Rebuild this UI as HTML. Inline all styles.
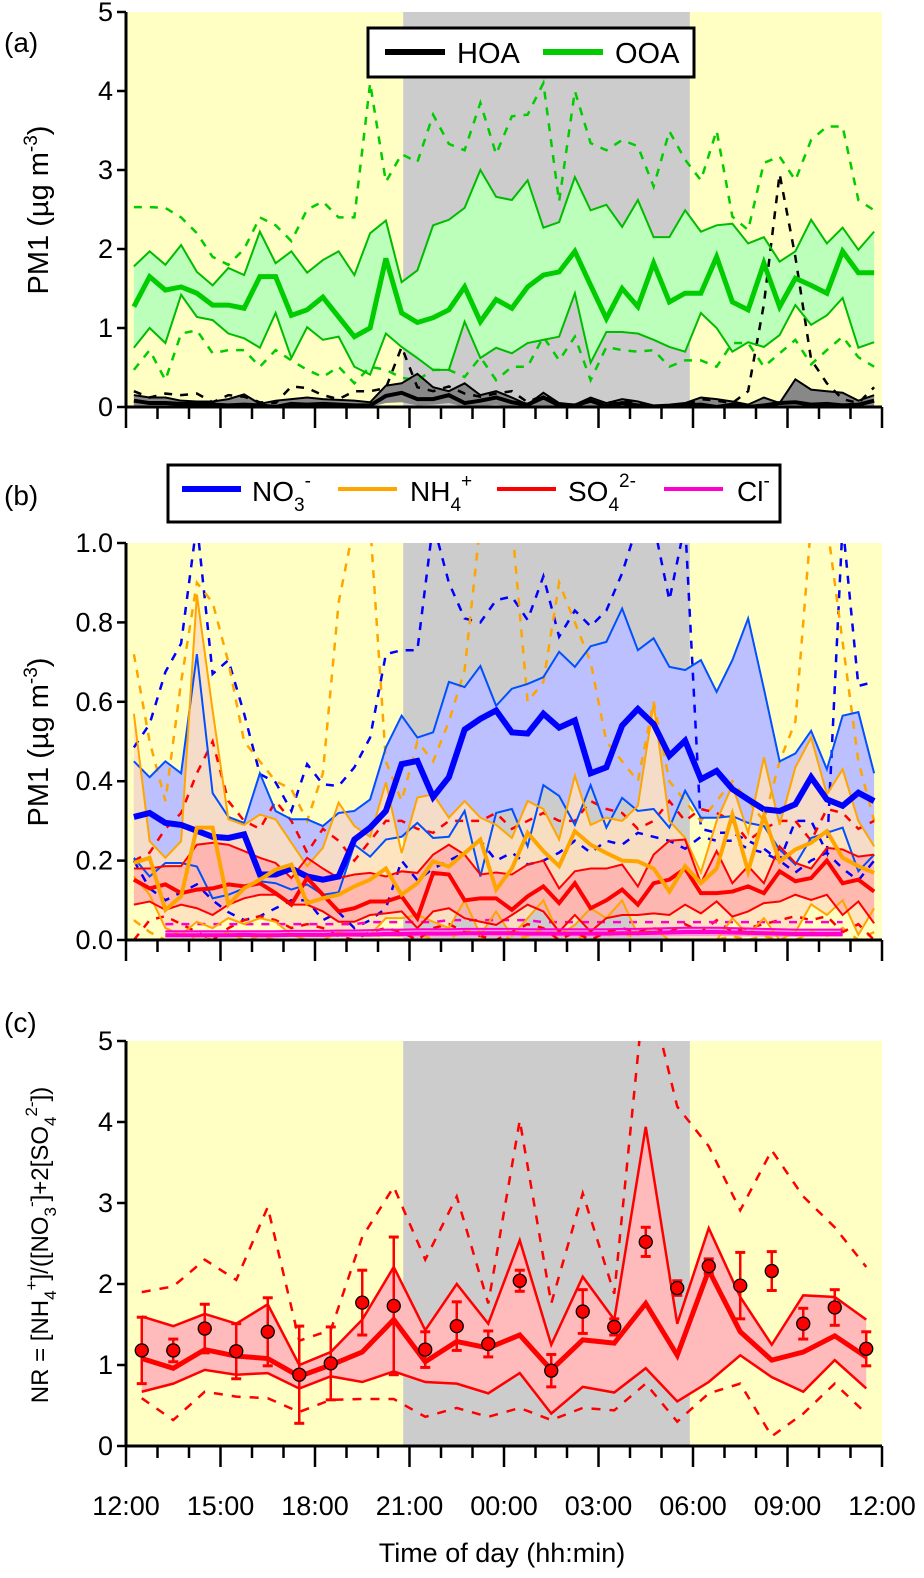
<!DOCTYPE html>
<html><head><meta charset="utf-8">
<style>
html,body{margin:0;padding:0;background:#fff;}
svg{display:block;font-family:"Liberation Sans",Arial,sans-serif;}
</style></head>
<body>
<svg id="chart" width="924" height="1578" viewBox="0 0 924 1578" xmlns="http://www.w3.org/2000/svg">
<defs>
<clipPath id="clipA"><rect x="126" y="12" width="757" height="396"/></clipPath>
<clipPath id="clipB"><rect x="126" y="543" width="757" height="398"/></clipPath>
<clipPath id="clipC"><rect x="126" y="1041" width="757" height="406"/></clipPath>
</defs>
<g id="bgs"></g>
<g id="series"></g>
<g id="axes"></g>
<!-- panel labels -->
<text x="4" y="52" font-size="28">(a)</text>
<text x="4" y="505" font-size="28">(b)</text>
<text x="4" y="1032" font-size="28">(c)</text>
<!-- y titles -->
<text transform="translate(48,210) rotate(-90)" text-anchor="middle" font-size="29">PM1 (µg m<tspan dy="-11" font-size="19">-3</tspan><tspan dy="11">)</tspan></text>
<text transform="translate(48,742) rotate(-90)" text-anchor="middle" font-size="29">PM1 (µg m<tspan dy="-11" font-size="19">-3</tspan><tspan dy="11">)</tspan></text>
<text transform="translate(48,1245) rotate(-90)" text-anchor="middle" font-size="24">NR = [NH<tspan dy="8" font-size="17">4</tspan><tspan dy="-19" font-size="17">+</tspan><tspan dy="11">]/([NO</tspan><tspan dy="8" font-size="17">3</tspan><tspan dy="-19" font-size="17">-</tspan><tspan dy="11">]+2[SO</tspan><tspan dy="8" font-size="17">4</tspan><tspan dy="-19" font-size="17">2-</tspan><tspan dy="11">])</tspan></text>
<text x="502" y="1562" text-anchor="middle" font-size="27">Time of day (hh:min)</text>
<!-- legend a -->
<g>
<rect x="368" y="28" width="326" height="49" fill="#fff" stroke="#000" stroke-width="3"/>
<line x1="385" y1="52" x2="445" y2="52" stroke="#000" stroke-width="6"/>
<text x="457" y="63" font-size="29">HOA</text>
<line x1="543" y1="52" x2="603" y2="52" stroke="#00cc00" stroke-width="6"/>
<text x="615" y="63" font-size="29">OOA</text>
</g>
<!-- legend b -->
<g>
<rect x="168" y="465" width="612" height="57" fill="#fff" stroke="#000" stroke-width="3"/>
<line x1="182" y1="489" x2="241" y2="489" stroke="#0000ff" stroke-width="6"/>
<text x="252" y="501" font-size="28">NO<tspan dy="10" font-size="19">3</tspan><tspan dy="-24" font-size="19">-</tspan></text>
<line x1="338" y1="489" x2="397" y2="489" stroke="#ffa500" stroke-width="4"/>
<text x="410" y="501" font-size="28">NH<tspan dy="10" font-size="19">4</tspan><tspan dy="-24" font-size="19">+</tspan></text>
<line x1="497" y1="489" x2="556" y2="489" stroke="#ff0000" stroke-width="4"/>
<text x="568" y="501" font-size="28">SO<tspan dy="10" font-size="19">4</tspan><tspan dy="-24" font-size="19">2-</tspan></text>
<line x1="664" y1="489" x2="723" y2="489" stroke="#ff00cc" stroke-width="4"/>
<text x="737" y="501" font-size="28">Cl<tspan dy="-14" font-size="19">-</tspan></text>
</g>
</svg>
<script>
// ---------- data (half-hourly, 48 points starting 12:15) ----------
const ooaMed=[1.27,1.65,1.48,1.52,1.44,1.29,1.29,1.25,1.65,1.65,1.16,1.23,1.39,1.14,0.89,1.0,1.88,1.19,1.07,1.13,1.23,1.52,1.08,1.36,1.25,1.52,1.67,1.71,1.97,1.54,1.12,1.5,1.27,1.82,1.33,1.44,1.44,1.9,1.33,1.23,1.82,1.27,1.63,1.54,1.44,1.97,1.7,1.7];
const ooaQ3=[1.78,1.97,1.8,2.05,1.71,1.54,1.76,1.67,2.22,1.82,1.97,1.7,1.86,1.97,1.67,2.2,2.36,1.58,1.73,2.3,2.37,2.52,3.0,2.66,2.62,2.87,2.27,2.34,2.91,2.49,2.56,2.28,2.62,2.15,2.15,2.49,2.22,2.3,2.32,2.07,2.15,1.84,1.97,2.37,2.07,2.27,1.99,2.22];
const ooaQ1=[0.75,1.0,0.81,1.42,1.14,1.1,0.93,0.87,0.75,1.19,0.62,1.01,0.85,0.89,0.51,0.41,0.93,0.76,0.62,0.47,0.47,1.08,0.62,0.75,0.68,0.81,0.85,0.89,1.44,0.56,0.95,0.95,0.93,0.85,0.76,0.7,1.19,1.0,0.7,0.82,0.76,0.91,1.29,1.04,1.16,1.38,0.75,0.82];
const ooaP90=[2.53,2.53,2.52,2.4,2.2,1.9,1.8,2.0,2.4,2.3,2.1,2.5,2.6,2.4,2.4,4.1,2.85,3.2,3.1,3.7,3.33,3.25,3.85,3.2,3.68,3.7,4.1,2.6,4.0,3.34,3.25,3.38,3.3,2.79,3.49,3.13,2.87,3.5,2.41,2.24,3.09,3.17,2.87,3.38,3.55,3.55,2.62,2.49];
const ooaP10=[0.47,0.72,0.34,0.93,0.97,0.68,0.72,0.72,0.51,0.72,0.59,0.47,0.38,0.51,0.3,0.51,0.47,0.37,0.34,0.47,0.47,0.38,0.63,0.34,0.51,0.51,0.89,0.59,0.89,0.34,0.76,0.72,0.7,0.72,0.51,0.59,0.59,0.51,0.81,0.81,0.51,0.68,0.85,0.54,0.72,0.89,0.63,0.51];
const hoaMed=[0.08,0.05,0.05,0.04,0.04,0.03,0.02,0.03,0.02,0.0,0.04,0.03,0.04,0.03,0.02,0.02,0.14,0.18,0.1,0.1,0.15,0.05,0.08,0.12,0.06,0.03,0.12,0.02,0.02,0.08,0.01,0.05,0.02,0.0,0.01,0.02,0.03,0.0,0.03,0.0,0.02,0.05,0.06,0.03,0.04,0.02,0.03,0.08];
const hoaQ3=[0.15,0.12,0.12,0.08,0.07,0.07,0.1,0.16,0.04,0.08,0.1,0.12,0.1,0.09,0.08,0.06,0.27,0.3,0.42,0.25,0.2,0.3,0.15,0.2,0.12,0.03,0.18,0.05,0.03,0.12,0.05,0.1,0.07,0.02,0.03,0.05,0.12,0.1,0.07,0.03,0.12,0.05,0.35,0.22,0.2,0.18,0.08,0.15];
const hoaQ1=[0.02,0.01,0.01,0.0,0.0,0.0,0.0,0.0,0.0,0.0,0.0,0.0,0.0,0.0,0.0,0.0,0.05,0.06,0.02,0.03,0.05,0.0,0.01,0.03,0.0,0.0,0.02,0.0,0.0,0.01,0.0,0.0,0.0,0.0,0.0,0.0,0.0,0.0,0.0,0.0,0.0,0.0,0.0,0.0,0.0,0.0,0.0,0.0];
const hoaP90=[0.2,0.12,0.17,0.15,0.17,0.06,0.15,0.13,0.06,0.05,0.26,0.24,0.15,0.1,0.2,0.2,0.24,0.76,0.25,0.2,0.26,0.17,0.13,0.17,0.2,0.06,0.15,0.03,0.03,0.06,0.05,0.08,0.06,0.0,0.0,0.02,0.1,0.08,0.05,0.2,1.3,2.95,1.9,0.6,0.3,0.1,0.05,0.25];

const no3Med=[0.31,0.32,0.295,0.29,0.275,0.26,0.257,0.266,0.165,0.165,0.18,0.16,0.152,0.16,0.253,0.283,0.325,0.443,0.451,0.36,0.41,0.53,0.557,0.578,0.523,0.52,0.57,0.535,0.553,0.42,0.435,0.54,0.582,0.544,0.464,0.502,0.405,0.426,0.38,0.354,0.329,0.325,0.342,0.41,0.354,0.338,0.371,0.35];
const no3Q3=[0.45,0.41,0.45,0.42,0.72,0.37,0.31,0.295,0.42,0.325,0.304,0.304,0.287,0.32,0.325,0.354,0.485,0.565,0.51,0.523,0.65,0.637,0.69,0.59,0.633,0.645,0.662,0.726,0.688,0.74,0.751,0.835,0.73,0.76,0.688,0.68,0.705,0.625,0.705,0.81,0.633,0.45,0.47,0.527,0.43,0.565,0.574,0.42];
const no3Q1=[0.207,0.16,0.194,0.194,0.185,0.105,0.114,0.13,0.148,0.143,0.127,0.14,0.114,0.12,0.24,0.21,0.253,0.26,0.295,0.257,0.26,0.325,0.16,0.32,0.33,0.236,0.39,0.363,0.29,0.39,0.283,0.358,0.325,0.33,0.283,0.376,0.308,0.308,0.312,0.295,0.287,0.228,0.19,0.257,0.27,0.283,0.173,0.215];
const no3P90=[0.485,0.544,0.675,0.747,1.05,0.67,0.705,0.57,0.418,0.397,0.325,0.443,0.392,0.388,0.435,0.51,0.72,0.73,0.73,1.05,0.9,0.81,0.8,0.856,0.865,0.806,0.916,0.764,0.83,0.79,0.83,0.924,1.05,1.05,0.856,1.05,0.28,0.27,0.27,0.25,0.23,0.2,0.3,0.3,0.22,1.05,0.64,0.65];
const no3P10=[0.2,0.13,0.1,0.12,0.14,0.1,0.07,0.05,0.06,0.08,0.1,0.1,0.05,0.07,0.03,0.05,0.08,0.2,0.15,0.18,0.2,0.22,0.25,0.2,0.22,0.19,0.2,0.22,0.25,0.22,0.25,0.24,0.27,0.26,0.25,0.23,0.26,0.25,0.25,0.23,0.22,0.2,0.17,0.2,0.22,0.18,0.15,0.2];
const nh4Med=[0.194,0.207,0.076,0.11,0.283,0.283,0.089,0.13,0.152,0.177,0.19,0.093,0.105,0.114,0.135,0.152,0.18,0.114,0.143,0.198,0.185,0.219,0.253,0.127,0.18,0.27,0.224,0.186,0.274,0.24,0.219,0.2,0.198,0.18,0.122,0.186,0.143,0.18,0.316,0.173,0.312,0.198,0.228,0.245,0.274,0.207,0.186,0.169];
const nh4Q3=[0.57,0.249,0.207,0.249,0.87,0.578,0.304,0.29,0.316,0.304,0.245,0.186,0.232,0.346,0.287,0.26,0.397,0.219,0.359,0.367,0.308,0.35,0.308,0.29,0.257,0.35,0.33,0.253,0.414,0.29,0.308,0.3,0.338,0.595,0.3,0.257,0.17,0.3,0.39,0.27,0.46,0.29,0.435,0.51,0.367,0.43,0.3,0.236];
const nh4Q1=[0.16,0.114,0.03,0.013,0.046,0.03,0.055,0.04,0.055,0.046,0.013,0.0,0.0,0.02,0.013,0.013,0.055,0.055,0.063,0.046,0.03,0.1,0.013,0.072,0.01,0.055,0.1,0.013,0.038,0.08,0.055,0.1,0.013,0.03,0.0,0.0,0.0,0.0,0.055,0.013,0.055,0.0,0.02,0.09,0.063,0.1,0.013,0.08];
const nh4P90=[0.72,0.5,0.35,0.65,0.9,0.85,0.7,0.5,0.45,0.4,0.38,0.3,0.42,0.85,1.05,1.05,0.45,0.35,0.5,0.45,0.55,0.68,1.05,1.05,1.05,0.6,0.65,0.9,0.8,0.7,0.5,0.45,0.4,0.6,0.4,0.35,0.3,0.35,0.4,0.35,0.3,0.45,0.55,1.05,1.05,0.75,0.45,0.3];
const nh4P10=[0.05,0.02,0.0,0.0,0.01,0.0,0.02,0.0,0.01,0.0,0.0,0.0,0.0,0.0,0.0,0.0,0.02,0.01,0.02,0.0,0.0,0.03,0.0,0.02,0.0,0.01,0.03,0.0,0.0,0.02,0.01,0.02,0.0,0.0,0.0,0.0,0.0,0.0,0.01,0.0,0.01,0.0,0.0,0.02,0.01,0.03,0.0,0.02];
const so4Med=[0.152,0.13,0.14,0.118,0.127,0.13,0.14,0.135,0.143,0.118,0.089,0.156,0.114,0.072,0.08,0.097,0.097,0.11,0.055,0.169,0.165,0.1,0.105,0.105,0.076,0.11,0.135,0.093,0.143,0.08,0.1,0.127,0.089,0.143,0.152,0.18,0.118,0.118,0.122,0.135,0.118,0.173,0.148,0.156,0.2,0.143,0.152,0.122];
const so4Q3=[0.18,0.18,0.186,0.186,0.24,0.245,0.24,0.224,0.207,0.194,0.156,0.207,0.18,0.156,0.165,0.169,0.16,0.173,0.169,0.215,0.24,0.215,0.165,0.17,0.165,0.19,0.2,0.13,0.173,0.18,0.18,0.19,0.135,0.215,0.25,0.253,0.143,0.224,0.143,0.186,0.143,0.236,0.194,0.18,0.232,0.228,0.21,0.215];
const so4Q1=[0.089,0.097,0.076,0.089,0.08,0.063,0.089,0.105,0.114,0.114,0.089,0.089,0.072,0.046,0.046,0.063,0.067,0.072,0.03,0.072,0.08,0.055,0.046,0.038,0.063,0.089,0.072,0.021,0.063,0.021,0.055,0.063,0.063,0.067,0.063,0.089,0.067,0.097,0.059,0.072,0.093,0.097,0.114,0.101,0.114,0.063,0.097,0.042];
const so4P90=[0.2,0.22,0.28,0.32,0.42,0.5,0.35,0.3,0.28,0.35,0.3,0.22,0.28,0.25,0.2,0.25,0.3,0.3,0.28,0.27,0.3,0.3,0.3,0.32,0.28,0.3,0.32,0.3,0.3,0.35,0.33,0.32,0.28,0.3,0.35,0.3,0.33,0.32,0.3,0.25,0.28,0.3,0.3,0.25,0.33,0.32,0.28,0.3];
const so4P10=[0.0,0.05,0.06,0.04,0.02,0.0,0.03,0.05,0.06,0.05,0.03,0.04,0.03,0.01,0.0,0.02,0.03,0.02,0.0,0.03,0.04,0.02,0.01,0.0,0.02,0.04,0.03,0.0,0.02,0.0,0.02,0.03,0.02,0.03,0.02,0.04,0.02,0.05,0.02,0.03,0.04,0.05,0.06,0.05,0.06,0.02,0.04,0.0];
const clMed=[null,null,0.012,0.012,0.012,0.012,0.012,0.013,0.012,0.012,0.013,0.013,0.013,0.014,0.014,0.014,0.015,0.015,0.016,0.016,0.016,0.017,0.017,0.017,0.017,0.016,0.016,0.016,0.016,0.016,0.016,0.017,0.017,0.018,0.019,0.02,0.02,0.02,0.019,0.018,0.017,0.016,0.015,0.015,0.015,0.015,null,null];
const clQ3=[null,null,0.022,0.022,0.022,0.022,0.022,0.022,0.022,0.022,0.023,0.023,0.023,0.024,0.024,0.025,0.026,0.026,0.027,0.027,0.027,0.028,0.028,0.028,0.028,0.027,0.027,0.027,0.027,0.027,0.027,0.028,0.028,0.029,0.03,0.031,0.031,0.031,0.03,0.029,0.028,0.027,0.026,0.026,0.026,0.026,null,null];
const clP90=[null,null,0.04,0.04,0.04,0.04,0.04,0.04,0.04,0.04,0.04,0.04,0.04,0.04,0.04,0.045,0.045,0.045,0.045,0.045,0.05,0.05,0.05,0.05,0.05,0.05,0.045,0.045,0.045,0.045,0.045,0.045,0.045,0.045,0.045,0.045,0.045,0.045,0.045,0.045,0.045,0.045,0.045,0.045,0.045,0.045,null,null];

// hourly NR ratio (24 points starting 12:30)
const nrMean=[1.18,1.18,1.45,1.17,1.41,0.88,1.02,1.77,1.73,1.19,1.48,1.26,2.04,0.93,1.66,1.47,2.52,1.95,2.22,1.98,2.16,1.51,1.71,1.2];
const nrErr=[0.41,0.14,0.3,0.34,0.42,0.6,0.45,0.4,0.85,0.22,0.3,0.16,0.13,0.2,0.27,0.1,0.18,0.09,0.09,0.41,0.24,0.19,0.22,0.21];
const nrMed=[1.08,0.96,1.19,1.11,1.08,0.86,1.0,1.16,1.56,1.04,1.29,1.21,1.37,0.94,1.31,1.27,1.76,1.12,2.17,1.41,1.06,1.16,1.36,1.1];
const nrQ3=[1.6,1.48,1.63,1.51,1.75,1.0,1.16,1.56,2.21,1.43,2.0,1.51,2.54,1.25,2.09,1.56,3.94,1.51,2.69,1.84,1.25,1.86,1.84,1.56];
const nrQ1=[0.67,0.77,0.94,0.88,0.9,0.71,0.86,0.79,0.92,0.79,0.77,0.65,0.9,0.4,0.73,0.66,0.96,0.55,0.79,1.12,0.85,0.67,1.06,0.71];
const nrP90=[1.9,1.97,2.3,2.05,2.95,1.3,1.43,2.58,3.2,2.3,3.08,1.76,4.02,1.76,3.12,1.88,5.8,4.19,3.7,2.91,3.65,3.08,2.7,2.21];
const nrP10=[0.59,0.32,0.67,0.61,0.59,0.42,0.57,0.58,0.58,0.36,0.47,0.36,0.47,0.32,0.47,0.44,0.77,0.3,0.65,0.77,0.12,0.4,0.77,0.4];

const xTickLabels=["12:00","15:00","18:00","21:00","00:00","03:00","06:00","09:00","12:00"];
const ticksA=["0","1","2","3","4","5"];
const ticksB=["0.0","0.2","0.4","0.6","0.8","1.0"];
const ticksC=["0","1","2","3","4","5"];

// ---------- scales ----------
const X0=126, PXH=31.5, XR=882;
function xH(h){return X0+h*PXH;}
function xHalf(i){return xH(0.25+0.5*i);}
function xHour(j){return xH(0.5+j);}
const panels={
 a:{top:12,bot:407,max:5,clip:"clipA"},
 b:{top:543,bot:940,max:1,clip:"clipB"},
 c:{top:1041,bot:1446,max:5,clip:"clipC"}
};
function yS(p,v){return p.bot-(v/p.max)*(p.bot-p.top);}

const NS="http://www.w3.org/2000/svg";
function mk(tag,attrs,parent){const e=document.createElementNS(NS,tag);for(const k in attrs)e.setAttribute(k,attrs[k]);parent.appendChild(e);return e;}
const bgs=document.getElementById('bgs'), ser=document.getElementById('series'), axes=document.getElementById('axes');

for(const key of ["a","b","c"]){
 const p=panels[key];
 const y=mk('rect',{x:X0,y:p.top,width:XR-X0,height:p.bot-p.top,fill:'#ffffc4'},bgs);
 
 
 const g=mk('rect',{x:xH(8.8),y:p.top,width:xH(17.9)-xH(8.8),height:p.bot-p.top,fill:'#cccccc'},bgs);
 
 
}

function pts(p,arr,xf){const out=[];arr.forEach((v,i)=>{if(v!==null)out.push([xf(i),yS(p,v)]);});return out;}
function line(p,arr,xf,color,w,dash,name){
 const g=mk('polyline',{points:pts(p,arr,xf).map(q=>q.join(',')).join(' '),fill:'none',stroke:color,'stroke-width':w,'stroke-linejoin':'miter','clip-path':'url(#'+p.clip+')'},ser);
 if(dash)g.setAttribute('stroke-dasharray',dash);
 
 
}
function band(p,lo,hi,xf,fill,name){
 const a=pts(p,hi,xf), b=pts(p,lo,xf).reverse();
 const g=mk('polygon',{points:a.concat(b).map(q=>q.join(',')).join(' '),fill:fill,'clip-path':'url(#'+p.clip+')'},ser);
 
 
}

// panel a
const A=panels.a;
band(A,ooaQ1,ooaQ3,xHalf,'#bbffbb','ooa-iqr-band');
band(A,hoaQ1,hoaQ3,xHalf,'#888888','hoa-iqr-band');
line(A,ooaP90,xHalf,'#00cc00',2.5,'8,8','ooa-p90-line');
line(A,ooaP10,xHalf,'#00cc00',2.5,'8,8','ooa-p10-line');
line(A,hoaP90,xHalf,'#000',2.5,'8,8','hoa-p90-line');
line(A,ooaQ3,xHalf,'#00bb00',2,null,'ooa-q3-line');
line(A,ooaQ1,xHalf,'#00bb00',2,null,'ooa-q1-line');
line(A,hoaQ3,xHalf,'#000',2,null,'hoa-q3-line');
line(A,ooaMed,xHalf,'#00cc00',5,null,'ooa-median-line');
line(A,hoaMed,xHalf,'#000',4,null,'hoa-median-line');

// panel b
const B=panels.b;
band(B,no3Q1,no3Q3,xHalf,'#bcc0ff','no3-iqr-band');
band(B,nh4Q1,nh4Q3,xHalf,'rgba(255,225,190,0.85)','nh4-iqr-band');
band(B,so4Q1,so4Q3,xHalf,'rgba(255,170,170,0.75)','so4-iqr-band');
band(B,clMed.map(v=>v===null?null:v*0.5),clQ3,xHalf,'#ff99dd','cl-iqr-band');
line(B,no3P90,xHalf,'#0000ff',2.5,'8,8','no3-p90-line');
line(B,no3P10,xHalf,'#0000ff',2.5,'8,8','no3-p10-line');
line(B,nh4P90,xHalf,'#ffa500',2.5,'8,8','nh4-p90-line');
line(B,nh4P10,xHalf,'#ffa500',2.5,'8,8','nh4-p10-line');
line(B,so4P90,xHalf,'#ff0000',2.5,'8,8','so4-p90-line');
line(B,so4P10,xHalf,'#ff0000',2.5,'8,8','so4-p10-line');
line(B,clP90,xHalf,'#ff00cc',2.5,'8,8','cl-p90-line');
line(B,no3Q3,xHalf,'#0050ff',2,null,'no3-q3-line');
line(B,no3Q1,xHalf,'#0050ff',2,null,'no3-q1-line');
line(B,nh4Q3,xHalf,'#ffa500',2,null,'nh4-q3-line');
line(B,nh4Q1,xHalf,'#ffa500',2,null,'nh4-q1-line');
line(B,so4Q3,xHalf,'#ff0000',2,null,'so4-q3-line');
line(B,so4Q1,xHalf,'#ff0000',2,null,'so4-q1-line');
line(B,clQ3,xHalf,'#ff00cc',2,null,'cl-q3-line');
line(B,no3Med,xHalf,'#0000ff',6,null,'no3-median-line');
line(B,so4Med,xHalf,'#ff0000',4,null,'so4-median-line');
line(B,nh4Med,xHalf,'#ffa500',4,null,'nh4-median-line');
line(B,clMed,xHalf,'#ff00cc',4,null,'cl-median-line');

// panel c
const C=panels.c;
band(C,nrQ1,nrQ3,xHour,'#ffbbbb','nr-iqr-band');
line(C,nrP90,xHour,'#ff0000',2.5,'9,9','nr-p90-line');
line(C,nrP10,xHour,'#ff0000',2.5,'9,9','nr-p10-line');
line(C,nrQ3,xHour,'#ff0000',2.5,null,'nr-q3-line');
line(C,nrQ1,xHour,'#ff0000',2.5,null,'nr-q1-line');
line(C,nrMed,xHour,'#ff0000',5,null,'nr-median-line');
nrMean.forEach((v,j)=>{
 const x=xHour(j), yt=yS(C,v+nrErr[j]), yb=yS(C,v-nrErr[j]);
 const g=mk('g',{},ser);
 
 
 mk('line',{x1:x,y1:yt,x2:x,y2:yb,stroke:'#ff0000','stroke-width':2.5},g);
 mk('line',{x1:x-5,y1:yt,x2:x+5,y2:yt,stroke:'#ff0000','stroke-width':3},g);
 mk('line',{x1:x-5,y1:yb,x2:x+5,y2:yb,stroke:'#ff0000','stroke-width':3},g);
 mk('circle',{cx:x,cy:yS(C,v),r:6.5,fill:'#ff0000',stroke:'#000','stroke-width':1.3},g);
});

// axes
const tickSets={a:ticksA,b:ticksB,c:ticksC};
for(const key of ["a","b","c"]){
 const p=panels[key];
 const g=mk('g',{},axes);
 
 
 mk('line',{x1:X0,y1:p.top,x2:X0,y2:p.bot+1,stroke:'#000','stroke-width':3},g);
 mk('line',{x1:X0-1,y1:p.bot,x2:XR,y2:p.bot,stroke:'#000','stroke-width':3},g);
 tickSets[key].forEach((lab,k)=>{
  const v=k*p.max/5, y=yS(p,v);
  mk('line',{x1:X0-9,y1:y,x2:X0,y2:y,stroke:'#000','stroke-width':2.5},g);
  const t=mk('text',{x:X0-13,y:y+9,'text-anchor':'end','font-size':27},g);
  t.textContent=lab;
 });
 for(let h=0;h<=24;h++){
  const x=xH(h), major=(h%3===0);
  mk('line',{x1:x,y1:p.bot,x2:x,y2:p.bot+(major?21:12),stroke:'#000','stroke-width':2.5},g);
 }
}
xTickLabels.forEach((lab,k)=>{
 const t=mk('text',{x:xH(k*3),y:1515,'text-anchor':'middle','font-size':27},axes);
 
 
 t.textContent=lab;
});
</script>
</body></html>
